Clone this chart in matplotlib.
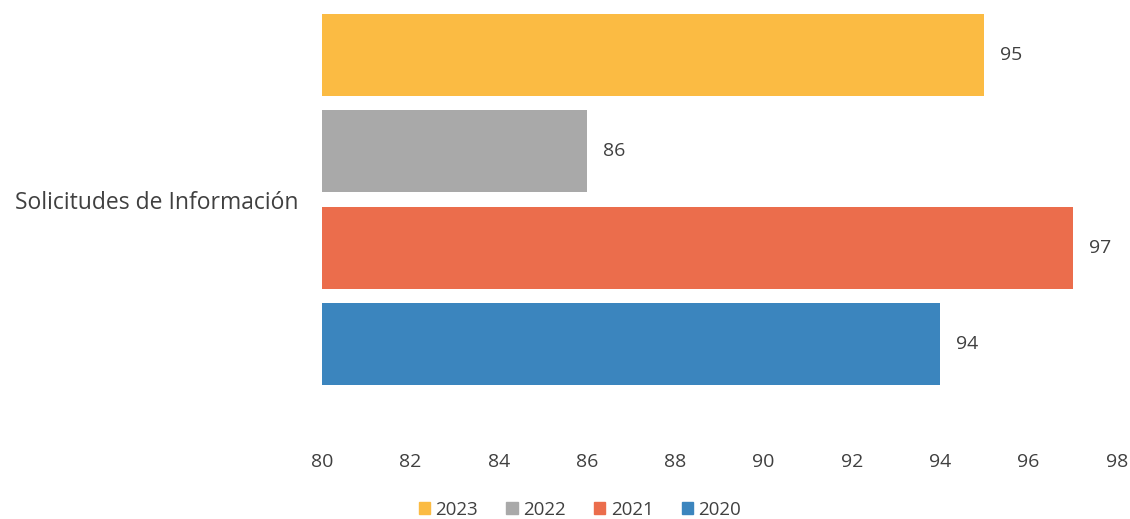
import matplotlib.pyplot as plt
from matplotlib.patches import Patch

category = "Solicitudes de Información"
years = ["2023", "2022", "2021", "2020"]
values = [95, 86, 97, 94]
colors = ["#FBBB43", "#A9A9A9", "#EB6D4C", "#3B85BE"]
xticks = [80, 82, 84, 86, 88, 90, 92, 94, 96, 98]

plt.rcParams["font.family"] = ["Open Sans", "DejaVu Sans"]

fig = plt.figure(figsize=(11.3, 5.19), dpi=100)
ax = fig.add_axes([322 / 1130, 1 - 400 / 519, (1117 - 322) / 1130, 400 / 519])

ypos = [3, 2, 1, 0]
ax.barh(ypos, [v - 80 for v in values], left=80, height=0.85, color=colors)
for y, v in zip(ypos, values):
	ax.text(v + 0.36, y, str(v), va="center", ha="left", fontsize=14, color="#404040")

ax.set_xlim(80, 98)
ax.set_ylim(-0.577, 3.567)
ax.set_xticks(xticks)
ax.set_xticklabels([str(t) for t in xticks], fontsize=14, color="#404040")
ax.tick_params(axis="x", length=0, pad=38)
ax.set_yticks([1.5])
ax.set_yticklabels([category], fontsize=16.5, color="#404040")
ax.tick_params(axis="y", length=0, pad=17)
for s in ax.spines.values():
	s.set_visible(False)

handles = [Patch(color=c, label=y) for c, y in zip(colors, years)]
fig.legend(handles=handles, loc="center", bbox_to_anchor=(580 / 1130, 1 - 510 / 519),
	ncol=4, frameon=False, fontsize=13.5, handlelength=0.6, handleheight=0.6,
	handletextpad=0.3, columnspacing=1.5, labelcolor="#404040")

fig.savefig("out.png", dpi=100)
